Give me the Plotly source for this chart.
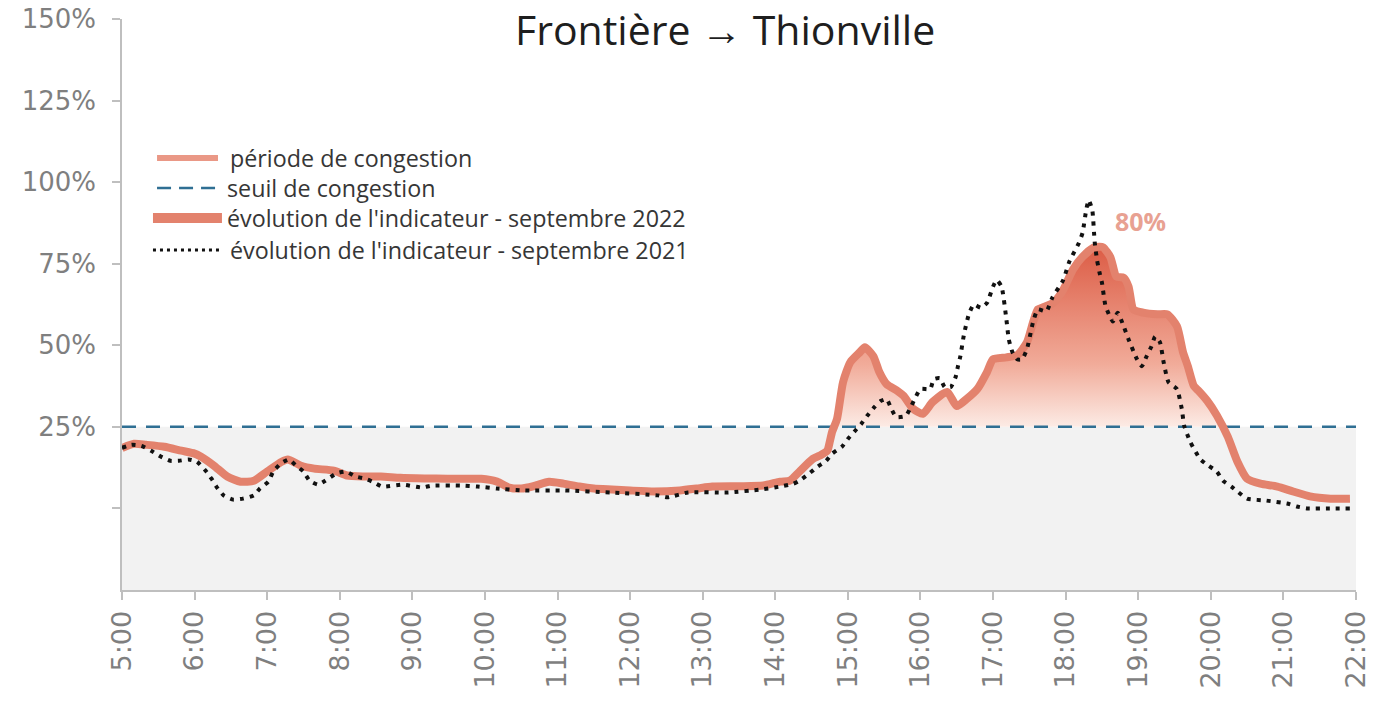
import plotly.graph_objects as go

# ---------------- data ----------------
title_text = "Frontière → Thionville"
hour_labels = ["5:00", "6:00", "7:00", "8:00", "9:00", "10:00", "11:00", "12:00", "13:00",
               "14:00", "15:00", "16:00", "17:00", "18:00", "19:00", "20:00", "21:00", "22:00"]
y_tick_values = [0, 25, 50, 75, 100, 125, 150]
y_tick_labels = ["", "25%", "50%", "75%", "100%", "125%", "150%"]
threshold = 25
legend_labels = ["période de congestion", "seuil de congestion",
                 "évolution de l'indicateur - septembre 2022",
                 "évolution de l'indicateur - septembre 2021"]

times_2022 = ["5:00", "5:10", "5:20", "5:35", "5:49", "6:00", "6:05", "6:16", "6:27", "6:38",
              "6:49", "7:00", "7:12", "7:17", "7:28", "7:39", "7:55", "8:06", "8:20", "8:34",
              "8:50", "9:10", "9:29", "9:45", "9:57", "10:10", "10:20", "10:30", "10:40", "10:53",
              "11:05", "11:18", "11:30", "11:45", "12:00", "12:20", "12:41", "12:55", "13:08", "13:30",
              "13:50", "14:04", "14:12", "14:20", "14:31", "14:37", "14:43", "14:45", "14:47", "14:51",
              "14:56", "15:02", "15:10", "15:14", "15:21", "15:26", "15:32", "15:41", "15:46", "15:54",
              "16:02", "16:10", "16:22", "16:30", "16:38", "16:47", "16:55", "17:00", "17:11", "17:20",
              "17:28", "17:33", "17:37", "17:41", "17:50", "17:58", "18:06", "18:14", "18:23", "18:28",
              "18:31", "18:37", "18:42", "18:48", "18:52", "18:56", "19:04", "19:16", "19:24", "19:32",
              "19:37", "19:41", "19:46", "19:50", "19:57", "20:05", "20:14", "20:22", "20:30", "20:41",
              "20:55", "21:08", "21:22", "21:39", "21:55"]
values_2022 = [18.5, 19.8, 19.5, 18.9, 17.7, 16.8, 15.9, 13.1, 9.8, 8.2,
               8.5, 11.3, 14.3, 15.0, 13.1, 12.2, 11.6, 10.1, 9.8, 9.8,
               9.4, 9.2, 9.1, 9.1, 9.1, 8.2, 6.4, 6.1, 6.8, 8.2,
               7.6, 6.7, 6.1, 5.8, 5.5, 5.2, 5.5, 6.1, 6.7, 6.8,
               7.0, 8.2, 8.5, 11.3, 15.2, 16.2, 17.7, 20.4, 23.5, 27.4,
               38.7, 44.8, 47.9, 49.4, 46.7, 41.8, 38.1, 36.0, 34.5, 30.5,
               29.0, 32.6, 35.7, 31.4, 33.5, 36.6, 41.8, 45.7, 46.3, 47.0,
               50.9, 57.0, 61.0, 61.6, 63.1, 67.0, 73.2, 77.1, 79.9, 80.2,
               80.0, 77.0, 71.0, 70.7, 68.0, 61.0, 60.0, 59.5, 59.5, 55.8,
               47.9, 43.6, 37.5, 36.0, 33.0, 28.5, 22.0, 14.3, 9.1, 7.6,
               6.7, 5.2, 3.7, 3.0, 3.0]

times_2021 = ["5:00", "5:08", "5:16", "5:24", "5:32", "5:40", "5:47", "5:55", "6:02", "6:09",
              "6:14", "6:18", "6:24", "6:32", "6:40", "6:49", "6:54", "7:01", "7:05", "7:11",
              "7:18", "7:24", "7:30", "7:35", "7:42", "7:48", "7:57", "8:05", "8:13", "8:21",
              "8:27", "8:35", "8:52", "9:08", "9:16", "9:40", "9:54", "10:10", "10:33", "11:06",
              "11:44", "12:23", "12:31", "12:48", "13:21", "13:48", "14:04", "14:15", "14:20", "14:28",
              "14:35", "14:42", "14:47", "14:55", "15:00", "15:06", "15:11", "15:16", "15:22", "15:27",
              "15:32", "15:36", "15:40", "15:48", "15:52", "15:56", "16:00", "16:08", "16:11", "16:16",
              "16:20", "16:25", "16:29", "16:31", "16:33", "16:36", "16:40", "16:44", "16:50", "16:55",
              "17:00", "17:03", "17:07", "17:11", "17:13", "17:16", "17:20", "17:24", "17:28", "17:33",
              "17:37", "17:44", "17:49", "17:58", "18:03", "18:11", "18:14", "18:17", "18:19", "18:22",
              "18:24", "18:26", "18:28", "18:30", "18:33", "18:39", "18:43", "18:48", "18:52", "18:59",
              "19:03", "19:07", "19:11", "19:14", "19:18", "19:21", "19:25", "19:32", "19:36", "19:38",
              "19:43", "19:51", "19:58", "20:05", "20:10", "20:17", "20:22", "20:30", "20:46", "21:03",
              "21:11", "21:20", "21:36", "21:55"]
values_2021 = [18.6, 19.5, 19.2, 17.7, 15.9, 14.6, 14.6, 15.0, 14.3, 11.6,
               9.1, 6.7, 4.0, 2.7, 3.0, 4.0, 6.1, 8.2, 11.3, 13.7,
               15.0, 13.1, 11.3, 8.5, 7.3, 8.5, 10.7, 11.3, 9.8, 9.1,
               8.2, 6.7, 7.3, 6.4, 7.0, 7.0, 6.7, 6.1, 5.5, 5.5,
               4.9, 4.0, 3.4, 4.9, 4.9, 5.8, 6.7, 7.6, 8.5, 10.7,
               12.8, 14.6, 16.8, 18.9, 21.3, 23.8, 25.9, 28.4, 31.1, 32.9,
               33.5, 30.5, 28.0, 28.4, 31.1, 34.1, 36.6, 36.6, 39.6, 39.9,
               37.2, 37.2, 40.2, 43.6, 46.7, 53.4, 59.5, 62.5, 61.5, 63.0,
               68.0, 70.0, 68.0, 58.0, 51.8, 47.9, 45.7, 45.7, 48.8, 57.0,
               61.0, 60.4, 64.6, 70.0, 75.6, 81.4, 84.5, 91.5, 94.5, 91.5,
               81.7, 76.0, 72.3, 69.2, 62.0, 57.3, 60.0, 55.8, 51.8, 45.7,
               43.6, 46.7, 49.7, 52.7, 50.9, 44.8, 38.7, 36.6, 30.5, 25.3,
               20.4, 15.2, 13.1, 11.3, 8.5, 6.7, 5.2, 3.0, 2.4, 1.5,
               0.6, 0.0, 0.0, 0.0]


def to_hours(s):
    h, m = s.split(":")
    return int(h) + int(m) / 60.0


x22 = [to_hours(t) for t in times_2022]
x21 = [to_hours(t) for t in times_2021]
tick_x = [to_hours(t) for t in hour_labels]
x_min, x_max = tick_x[0], tick_x[-1]
clipped_2022 = [max(v, threshold) for v in values_2022]

SALMON = "#e3826d"
SALMON_LIGHT = "#ea9886"
BLUE = "#2f6f93"
AXIS = "#bfbfbf"
TEXTFONT = "Open Sans"

fig = go.Figure()

# baseline at threshold (for the congestion fill)
fig.add_trace(go.Scatter(x=x22, y=[threshold] * len(x22), mode="lines",
                         line=dict(width=0, color="rgba(0,0,0,0)"),
                         hoverinfo="skip", showlegend=False))
# congestion period: area above threshold, vertical gradient
peak = max(values_2022)
fig.add_trace(go.Scatter(x=x22, y=clipped_2022, mode="lines", fill="tonexty",
                         line=dict(width=0, color="rgba(0,0,0,0)"),
                         fillgradient=dict(type="vertical", start=threshold, stop=peak,
                                           colorscale=[[0, "#fcebe5"], [0.35, "#f1ab99"],
                                                       [1, "#dc5c45"]]),
                         name=legend_labels[0], showlegend=False))
# threshold line
fig.add_trace(go.Scatter(x=[x_min, x_max], y=[threshold, threshold], mode="lines",
                         line=dict(color=BLUE, width=2.5, dash="14px,10px"),
                         name=legend_labels[1], showlegend=False))
# 2022 indicator
fig.add_trace(go.Scatter(x=x22, y=values_2022, mode="lines",
                         line=dict(color=SALMON, width=8, shape="spline", smoothing=0.6),
                         name=legend_labels[2], showlegend=False))
# 2021 indicator
fig.add_trace(go.Scatter(x=x21, y=values_2021, mode="lines",
                         line=dict(color="#111111", width=4, dash="4px,6px",
                                   shape="spline", smoothing=0.5),
                         name=legend_labels[3], showlegend=False))

# light grey zone under threshold
fig.add_shape(type="rect", xref="x", yref="y", x0=x_min, x1=x_max, y0=-25, y1=threshold,
              fillcolor="#f2f2f2", line=dict(width=0), layer="below")

# custom legend
leg_rows_y = [0.7566, 0.7040, 0.6515, 0.5954]
leg_styles = [
    dict(x0=0.0284, x1=0.0778, line=dict(color=SALMON_LIGHT, width=6)),
    dict(x0=0.0284, x1=0.0810, line=dict(color=BLUE, width=2.5, dash="14px,8px")),
    dict(x0=0.0251, x1=0.0810, line=dict(color=SALMON, width=10)),
    dict(x0=0.0251, x1=0.0790, line=dict(color="#111111", width=3, dash="3px,4px")),
]
leg_text_x = [0.0859, 0.0835, 0.0835, 0.0859]
for yy, st, lab, tx in zip(leg_rows_y, leg_styles, legend_labels, leg_text_x):
    fig.add_shape(type="line", xref="paper", yref="paper", x0=st["x0"], x1=st["x1"],
                  y0=yy, y1=yy, line=st["line"])
    fig.add_annotation(xref="paper", yref="paper", x=tx, y=yy, text=lab, showarrow=False,
                       xanchor="left", yanchor="middle",
                       font=dict(family=TEXTFONT, size=23.3, color="#363636"))

# title
fig.add_annotation(xref="paper", yref="paper", x=0.4887, y=0.9825, text=title_text,
                   showarrow=False, xanchor="center", yanchor="middle",
                   font=dict(family=TEXTFONT, size=41, color="#1e1e1e"))

# peak label
peak_time = x22[values_2022.index(peak)]
fig.add_annotation(x=peak_time + 0.56, y=peak + 7.8, text=f"{peak:.0f}%", showarrow=False,
                   xanchor="center", yanchor="middle",
                   font=dict(family=TEXTFONT, size=25, color="#e8a192", weight="bold"))

fig.update_layout(
    width=1383, height=703,
    margin=dict(l=122, r=27, t=19, b=113),
    plot_bgcolor="white", paper_bgcolor="white",
    showlegend=False,
)
fig.update_xaxes(range=[x_min, x_max], tickvals=tick_x, ticktext=hour_labels, tickangle=-90,
                 showgrid=False, zeroline=False, showline=True, linecolor=AXIS, linewidth=2,
                 ticks="outside", ticklen=8, tickcolor=AXIS, tickwidth=1.5, automargin=False,
                 tickfont=dict(family="DejaVu Sans", size=27, color="#7f7f7f"))
fig.update_yaxes(range=[-25, 150], tickvals=y_tick_values, ticktext=y_tick_labels,
                 showgrid=False, zeroline=False, showline=True, linecolor=AXIS, linewidth=1.5,
                 ticks="outside", ticklen=8, tickcolor=AXIS, tickwidth=1.5, automargin=False,
                 tickfont=dict(family="DejaVu Sans", size=26, color="#7f7f7f"),
                 ticklabelstandoff=11)

fig.write_html("out.html", config={"displayModeBar": False},
               post_script="document.body.style.margin='0';")
